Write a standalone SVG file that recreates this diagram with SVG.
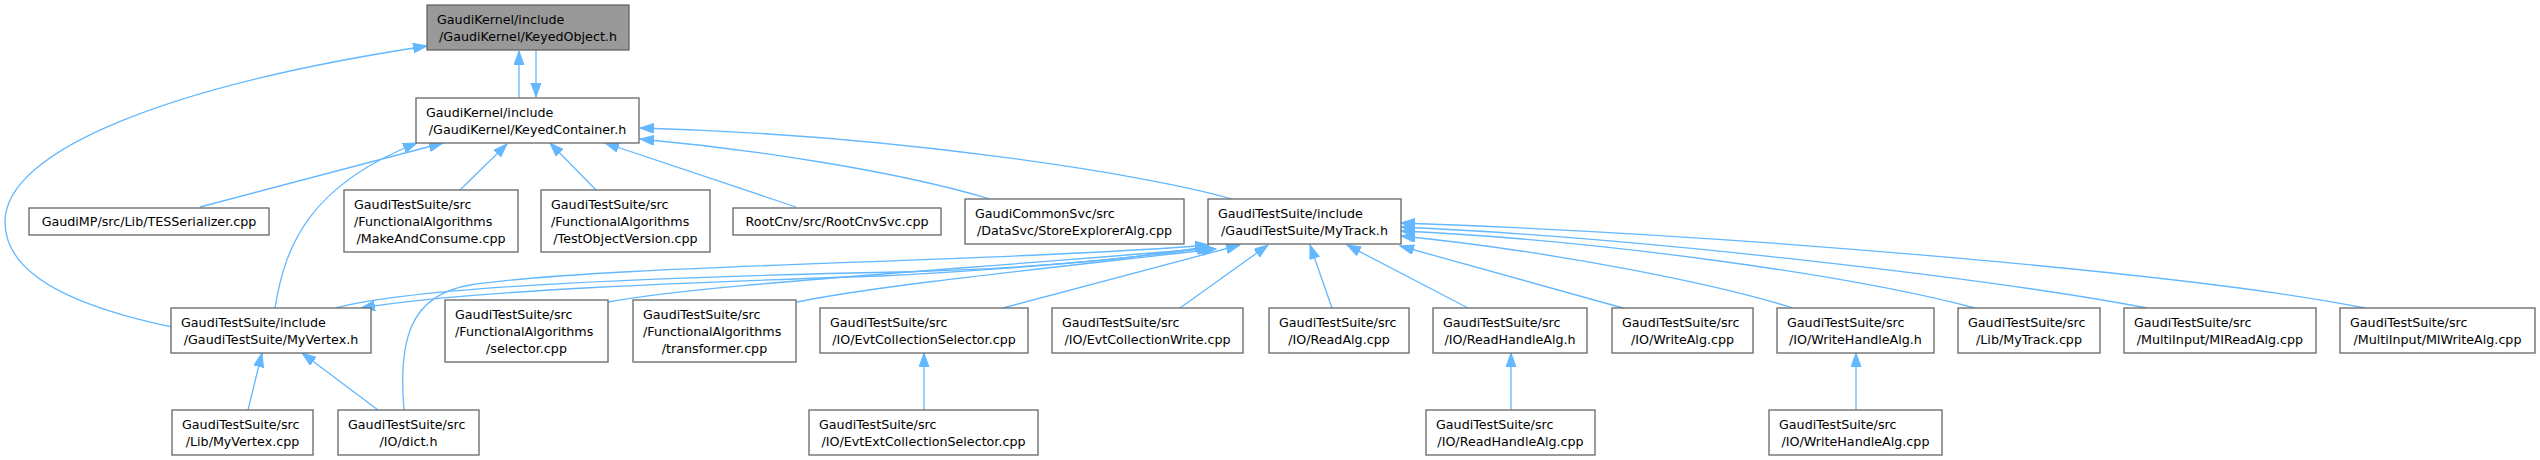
<svg xmlns="http://www.w3.org/2000/svg" width="2540" height="460" viewBox="0 0 2540 460">
<style>
.node rect{fill:#ffffff;stroke:#666666;stroke-width:1.3}
#n_keyedobject rect{fill:#999999}
text{font-family:"DejaVu Sans","Liberation Sans",sans-serif;font-size:12.7px;fill:#000000}
.c{text-anchor:middle}
.edges path{fill:none;stroke:#63b8ff;stroke-width:1.3;marker-end:url(#arr)}
</style>
<defs>
<marker id="arr" markerUnits="userSpaceOnUse" markerWidth="15" markerHeight="11" refX="14" refY="5" orient="auto">
<path d="M0,0 L14,5 L0,10 Z" fill="#63b8ff" stroke="#63b8ff" stroke-width="1"/>
</marker>
</defs>
<g class="edges" id="edges">
<path d="M519,98 L519,51"/>
<path d="M536,50 L536,97"/>
<path d="M171,327 C120,315 5,290 5,222 C5,150 170,85 427,46"/>
<path d="M200,207 L443,143"/>
<path d="M275,308 C285,245 310,185 417,143"/>
<path d="M460,190 L507,144"/>
<path d="M596,190 L550,143"/>
<path d="M796,207 L605,143"/>
<path d="M990,199 C900,172 760,150 640,139"/>
<path d="M1232,199 C1150,175 900,135 640,128"/>
<path d="M336,308 C420,285 700,276 900,272 C1050,268 1150,256 1210,247"/>
<path d="M1208,246 C1150,258 1000,270 880,276 C700,282 470,290 361,308"/>
<path d="M404,410 C398,340 410,295 470,285 C600,265 1000,262 1209,245"/>
<path d="M608,302 C700,285 900,274 1213,248"/>
<path d="M797,302 C880,285 1050,268 1216,249"/>
<path d="M1003,308 L1240,245"/>
<path d="M1180,308 L1268,245"/>
<path d="M1332,308 L1310,245"/>
<path d="M1468,308 L1347,245"/>
<path d="M1623,308 L1400,246"/>
<path d="M1793,308 C1720,285 1560,252 1401,236"/>
<path d="M1975,308 C1850,275 1600,240 1401,231"/>
<path d="M2147,308 C2000,280 1650,238 1401,227"/>
<path d="M2365,308 C2200,275 1750,235 1401,223"/>
<path d="M248,410 L262,353"/>
<path d="M378,410 L302,353"/>
<path d="M924,410 L924,353"/>
<path d="M1511,410 L1511,353"/>
<path d="M1856,410 L1856,353"/>
</g>
<g class="node" id="n_keyedobject"><rect x="427" y="5" width="202" height="45"/><text x="437" y="23.7">GaudiKernel/include</text><text class="c" x="528" y="40.7">/GaudiKernel/KeyedObject.h</text></g>
<g class="node" id="n_keyedcontainer"><rect x="416" y="98" width="223" height="45"/><text x="426" y="116.7">GaudiKernel/include</text><text class="c" x="527.5" y="133.7">/GaudiKernel/KeyedContainer.h</text></g>
<g class="node" id="n_tesserializer"><rect x="29" y="208" width="240" height="27"/><text class="c" x="149" y="226">GaudiMP/src/Lib/TESSerializer.cpp</text></g>
<g class="node" id="n_makeandconsume"><rect x="344" y="190" width="174" height="62"/><text x="354" y="208.7">GaudiTestSuite/src</text><text x="354" y="225.7">/FunctionalAlgorithms</text><text class="c" x="431" y="242.7">/MakeAndConsume.cpp</text></g>
<g class="node" id="n_testobjectversion"><rect x="541" y="190" width="169" height="62"/><text x="551" y="208.7">GaudiTestSuite/src</text><text x="551" y="225.7">/FunctionalAlgorithms</text><text class="c" x="625.5" y="242.7">/TestObjectVersion.cpp</text></g>
<g class="node" id="n_rootcnvsvc"><rect x="733" y="208" width="208" height="27"/><text class="c" x="837" y="226">RootCnv/src/RootCnvSvc.cpp</text></g>
<g class="node" id="n_storeexploreralg"><rect x="965" y="199" width="219" height="45"/><text x="975" y="217.7">GaudiCommonSvc/src</text><text class="c" x="1074.5" y="234.7">/DataSvc/StoreExplorerAlg.cpp</text></g>
<g class="node" id="n_mytrack_h"><rect x="1208" y="199" width="193" height="45"/><text x="1218" y="217.7">GaudiTestSuite/include</text><text class="c" x="1304.5" y="234.7">/GaudiTestSuite/MyTrack.h</text></g>
<g class="node" id="n_myvertex_h"><rect x="171" y="308" width="200" height="45"/><text x="181" y="326.7">GaudiTestSuite/include</text><text class="c" x="271" y="343.7">/GaudiTestSuite/MyVertex.h</text></g>
<g class="node" id="n_selector"><rect x="445" y="300" width="163" height="62"/><text x="455" y="318.7">GaudiTestSuite/src</text><text x="455" y="335.7">/FunctionalAlgorithms</text><text class="c" x="526.5" y="352.7">/selector.cpp</text></g>
<g class="node" id="n_transformer"><rect x="633" y="300" width="163" height="62"/><text x="643" y="318.7">GaudiTestSuite/src</text><text x="643" y="335.7">/FunctionalAlgorithms</text><text class="c" x="714.5" y="352.7">/transformer.cpp</text></g>
<g class="node" id="n_evtcollectionselector"><rect x="820" y="308" width="208" height="45"/><text x="830" y="326.7">GaudiTestSuite/src</text><text class="c" x="924" y="343.7">/IO/EvtCollectionSelector.cpp</text></g>
<g class="node" id="n_evtcollectionwrite"><rect x="1052" y="308" width="191" height="45"/><text x="1062" y="326.7">GaudiTestSuite/src</text><text class="c" x="1147.5" y="343.7">/IO/EvtCollectionWrite.cpp</text></g>
<g class="node" id="n_readalg"><rect x="1269" y="308" width="140" height="45"/><text x="1279" y="326.7">GaudiTestSuite/src</text><text class="c" x="1339" y="343.7">/IO/ReadAlg.cpp</text></g>
<g class="node" id="n_readhandlealg_h"><rect x="1433" y="308" width="154" height="45"/><text x="1443" y="326.7">GaudiTestSuite/src</text><text class="c" x="1510" y="343.7">/IO/ReadHandleAlg.h</text></g>
<g class="node" id="n_writealg"><rect x="1612" y="308" width="141" height="45"/><text x="1622" y="326.7">GaudiTestSuite/src</text><text class="c" x="1682.5" y="343.7">/IO/WriteAlg.cpp</text></g>
<g class="node" id="n_writehandlealg_h"><rect x="1777" y="308" width="157" height="45"/><text x="1787" y="326.7">GaudiTestSuite/src</text><text class="c" x="1855.5" y="343.7">/IO/WriteHandleAlg.h</text></g>
<g class="node" id="n_lib_mytrack"><rect x="1958" y="308" width="142" height="45"/><text x="1968" y="326.7">GaudiTestSuite/src</text><text class="c" x="2029" y="343.7">/Lib/MyTrack.cpp</text></g>
<g class="node" id="n_mireadalg"><rect x="2124" y="308" width="192" height="45"/><text x="2134" y="326.7">GaudiTestSuite/src</text><text class="c" x="2220" y="343.7">/MultiInput/MIReadAlg.cpp</text></g>
<g class="node" id="n_miwritealg"><rect x="2340" y="308" width="195" height="45"/><text x="2350" y="326.7">GaudiTestSuite/src</text><text class="c" x="2437.5" y="343.7">/MultiInput/MIWriteAlg.cpp</text></g>
<g class="node" id="n_myvertex_cpp"><rect x="172" y="410" width="141" height="45"/><text x="182" y="428.7">GaudiTestSuite/src</text><text class="c" x="242.5" y="445.7">/Lib/MyVertex.cpp</text></g>
<g class="node" id="n_dict_h"><rect x="338" y="410" width="141" height="45"/><text x="348" y="428.7">GaudiTestSuite/src</text><text class="c" x="408.5" y="445.7">/IO/dict.h</text></g>
<g class="node" id="n_evtextcollectionselector"><rect x="809" y="410" width="229" height="45"/><text x="819" y="428.7">GaudiTestSuite/src</text><text class="c" x="923.5" y="445.7">/IO/EvtExtCollectionSelector.cpp</text></g>
<g class="node" id="n_readhandlealg_cpp"><rect x="1426" y="410" width="169" height="45"/><text x="1436" y="428.7">GaudiTestSuite/src</text><text class="c" x="1510.5" y="445.7">/IO/ReadHandleAlg.cpp</text></g>
<g class="node" id="n_writehandlealg_cpp"><rect x="1769" y="410" width="173" height="45"/><text x="1779" y="428.7">GaudiTestSuite/src</text><text class="c" x="1855.5" y="445.7">/IO/WriteHandleAlg.cpp</text></g>
</svg>
